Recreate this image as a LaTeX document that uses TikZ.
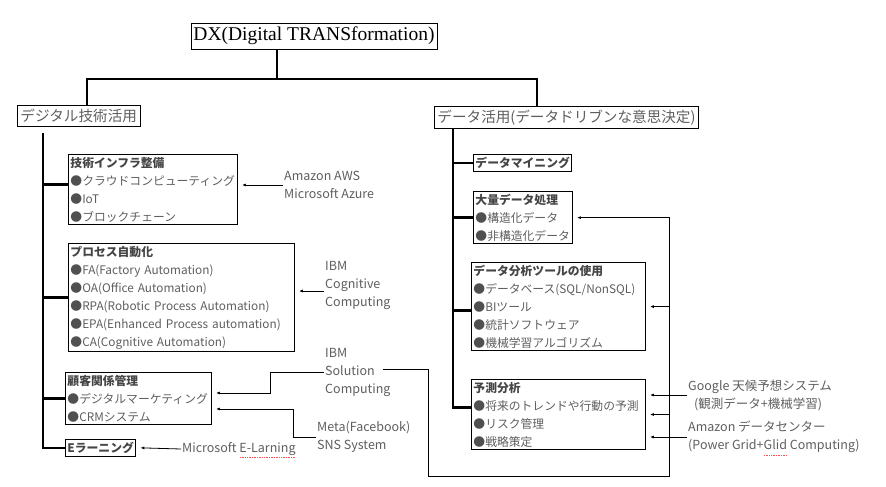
\documentclass[tikz,border=0pt]{standalone}
\usepackage{fontspec}
\setmainfont{Liberation Serif}
\newfontfamily\jp{Noto Sans CJK JP}
\usetikzlibrary{arrows.meta}

\definecolor{txt}{HTML}{5E5E5E}
\definecolor{hd}{HTML}{454545}
\definecolor{bul}{HTML}{505050}

\newcommand{\boxtitle}[1]{{\bfseries\color{hd}#1}}
\newcommand{\itm}{{\color{bul}●}}

\begin{document}
\begin{tikzpicture}[x=1pt, y=-1pt]
            \tikzset{
                box/.style = {draw, line width=0.9pt, anchor=north west, align=left, inner xsep=2pt, inner ysep=2.5pt, text=txt, font=\jp\fontsize{11.8}{18}\selectfont},
                head/.style = {draw, line width=0.9pt, anchor=north west, inner xsep=3pt, inner ysep=3.5pt, text=txt, font=\jp\fontsize{14.6}{17}\selectfont},
                note/.style = {anchor=west, align=left, inner sep=1pt, text=txt, font=\jp\fontsize{12.5}{18}\selectfont},
                trunk/.style = {line width=2.4pt},
                arr/.style = {line width=0.8pt, -{Latex[length=4pt, width=3pt]}, shorten >=4pt},
                spell/.style = {red!70, densely dotted, line width=0.7pt}
            }
            \useasboundingbox (0,0) rectangle (886,487);

            {
                \node[draw, line width=0.9pt, inner xsep=2.5pt, inner ysep=4pt, font=\fontsize{19.5}{22}\selectfont] (dx) at (314,36) {DX(Digital TRANSformation)};

                \node[head] (digi) at (17,105) {デジタル技術活用};
                \node[head] (data) at (434,106) {データ活用(データドリブンな意思決定)};

                % left side
                \node[box, text width=165pt] (infra) at (68,154) {\boxtitle{技術インフラ整備}\\\itm クラウドコンピューティング\\\itm IoT\\\itm ブロックチェーン};
                \node[box, text width=222pt] (proc) at (68,243) {\boxtitle{プロセス自動化}\\\itm FA(Factory Automation)\\\itm OA(Office Automation)\\\itm RPA(Robotic Process Automation)\\\itm EPA(Enhanced Process automation)\\\itm CA(Cognitive Automation)};
                \node[box, text width=142pt] (cust) at (65,372) {\boxtitle{顧客関係管理}\\\itm デジタルマーケティング\\\itm CRMシステム};
                \node[box] (elearn) at (65,439) {\boxtitle{Eラーニング}};

                % right side
                \node[box] (mining) at (473,154) {\boxtitle{データマイニング}};
                \node[box, text width=95pt] (bulk) at (473,191) {\boxtitle{大量データ処理}\\\itm 構造化データ\\\itm 非構造化データ};
                \node[box, text width=170pt] (tools) at (471,262) {\boxtitle{データ分析ツールの使用}\\\itm データベース(SQL/NonSQL)\\\itm BIツール\\\itm 統計ソフトウェア\\\itm 機械学習アルゴリズム};
                \node[box, text width=170pt] (predict) at (471,379) {\boxtitle{予測分析}\\\itm 将来のトレンドや行動の予測\\\itm リスク管理\\\itm 戦略策定};

                % vendors
                \node[note] (aws) at (283,185) {Amazon AWS\\Microsoft Azure};
                \node[note] (cog) at (324,285) {IBM\\Cognitive\\Computing};
                \node[note] (sol) at (324,372) {IBM\\Solution\\Computing};
                \node[note] (meta) at (316,437) {Meta(Facebook)\\SNS System};
                \node[note] (mslearn) at (181,449) {Microsoft E-Larning};
                \node[note] (google) at (687,395) {Google 天候予想システム\\\hspace{6pt}(観測データ+機械学習)};
                \node[note] (amazon) at (687,437) {Amazon データセンター\\(Power Grid+Glid Computing)};
            }

            \coordinate (split) at (277,79);
            \coordinate (lbr) at (87,79);
            \coordinate (rbr) at (537,79);
            \coordinate (ltr) at (43,133);
            \coordinate (rtr) at (453,129);
            \coordinate (ib) at ([yshift=5pt]infra.west);
            \coordinate (tb) at ([yshift=-4pt]tools.west);
            \coordinate (pb) at ([yshift=7pt]predict.west);

            % tree
            \draw[trunk] (split |- dx.south) -- (split);
            \draw[trunk] (digi.north -| lbr) -- (lbr) -- (rbr) -- (data.north -| rbr);

            \draw[trunk] (ltr) |- (elearn.west);
            \draw[trunk] (ib -| ltr) -- (ib);
            \draw[trunk] (proc.west -| ltr) -- (proc.west);
            \draw[trunk] (cust.west -| ltr) -- (cust.west);

            \draw[trunk] (rtr) |- (pb);
            \draw[trunk] (mining.west -| rtr) -- (mining.west);
            \draw[trunk] (bulk.west -| rtr) -- (bulk.west);
            \draw[trunk] (tb -| rtr) -- (tb);

            % vendor arrows
            \coordinate (cg) at ([yshift=-6pt]cog.west);
            \coordinate (s1) at (270,393);
            \coordinate (s2) at (383,369);
            \coordinate (s3) at (428,476);
            \coordinate (s4) at (669,476);
            \coordinate (m1) at (293,409);

            \draw[arr] (aws.west) -- (aws.west -| infra.east);
            \draw[arr] (cg) -- (cg -| proc.east);
            \draw[arr] (sol.west) -| (s1) -- (s1 -| cust.east);
            \draw[arr] (meta.west) -| (m1) -- (m1 -| cust.east);
            \draw[arr] (mslearn.west) -- (elearn.east);
            \draw[arr] (s2) -| (s3) -- (s4) |- (bulk.east);
            \draw[arr] (s4 |- tools.east) -- (tools.east);
            \draw[arr] (s4 |- predict.east) -- (predict.east);
            \draw[arr] (google.west) -- (google.west -| predict.east);
            \draw[arr] (amazon.west) -- (amazon.west -| predict.east);

            \draw[spell] (240,457) -- (295,457);
            \draw[spell] (764,455) -- (787,455);

        \end{tikzpicture}
\end{document}
